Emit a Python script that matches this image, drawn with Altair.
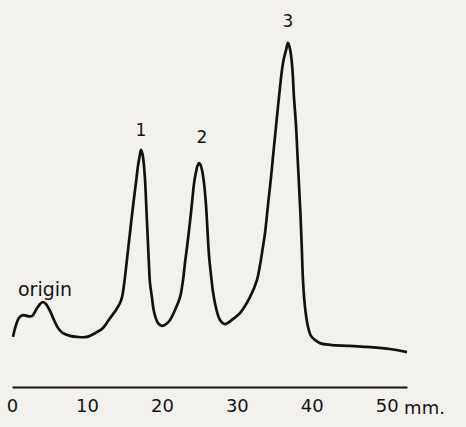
import altair as alt
import pandas as pd

# Densitometer trace: distance migrated (mm) vs. relative detector response
distance_mm = [
    # origin region
    0.13, 0.53, 0.93, 1.47, 2.13, 2.67, 3.20, 3.74, 4.14, 4.54, 5.07, 5.60,
    6.14, 6.80, 7.74, 8.67, 10.01, 11.34, 12.14, 12.81, 13.48, 13.88, 14.41,
    # peak 1
    14.68, 14.94, 15.21, 15.48, 15.74, 16.01, 16.28, 16.55, 16.81, 17.08,
    17.21, 17.41, 17.61, 17.75, 17.88, 18.01, 18.15, 18.28, 18.41, 18.68,
    18.95, 19.48, 20.01,
    # peak 2
    20.55, 21.08, 21.75, 22.42, 22.82, 23.08, 23.35, 23.62, 23.88, 24.08,
    24.28, 24.55, 24.75, 24.95, 25.15, 25.35, 25.62, 25.88, 26.08, 26.28,
    26.55, 26.82, 27.22, 27.75, 28.42, 29.49, 30.42,
    # peak 3
    31.75, 32.69, 33.09, 33.42, 33.76, 34.02, 34.22, 34.42, 34.74, 34.95,
    35.18, 35.62, 36.16, 36.56, 36.82, 37.09, 37.22, 37.42, 37.62, 37.89,
    38.09, 38.29, 38.49, 38.66, 38.82, 39.09, 39.49, 39.89,
    # tail
    40.43, 41.09, 42.43, 45.10, 47.37, 50.43, 52.70,
]
response = [
    15.5, 18.9, 21.0, 21.8, 21.5, 21.5, 23.3, 25.0, 25.6, 25.0, 23.0, 20.4,
    18.1, 16.6, 15.8, 15.5, 15.5, 16.9, 18.1, 20.1, 22.1, 23.3, 25.3,
    27.0, 30.5, 35.4, 40.7, 45.6, 50.8, 55.7, 60.3, 65.0, 68.4,
    69.6, 68.4, 65.0, 60.9, 55.1, 48.8, 42.1, 36.0, 31.1, 26.8,
    22.7, 19.5, 18.7,
    19.2, 20.4, 23.3, 27.0, 32.0, 36.9, 41.5, 46.4, 51.4, 55.7,
    59.8, 63.2, 65.0, 65.8, 65.3, 63.8, 60.0, 53.7, 46.4, 39.2,
    33.4, 28.5, 23.9, 20.4, 19.2, 20.7, 22.4,
    27.0, 32.0, 36.3, 40.7, 45.6, 50.8, 55.1, 58.9, 65.8, 70.5,
    75.4, 84.9, 94.8, 98.5, 100.6, 98.8, 97.1, 92.8, 84.9, 76.8,
    68.1, 59.5, 50.8, 41.5, 32.0, 24.2, 18.4, 15.8,
    14.6, 13.7, 13.2, 12.9, 12.6, 12.0, 11.1,
]

# Peak annotations (anchored at the peak they name)
label_text = ["origin", "1", "2", "3"]
label_mm = [4.14, 17.21, 24.95, 36.82]
label_resp = [25.6, 69.6, 65.8, 100.6]
label_size = [19, 17, 17, 17]
label_dx = [2, 0, 3, 0]
label_dy = [-6, -14, -20, -16]

tick_values = [0, 10, 20, 30, 40, 50]

trace = pd.DataFrame({"mm": distance_mm, "resp": response})
labels = pd.DataFrame({"t": label_text, "mm": label_mm, "resp": label_resp})

FONT = "DejaVu Sans"
INK = "#141414"

x_scale = alt.Scale(domain=[0, 52.7], nice=False, zero=False)
y_scale = alt.Scale(domain=[1, 113], nice=False, zero=False)

x_axis = alt.Axis(
    values=tick_values,
    grid=False,
    domainColor=INK,
    domainWidth=2,
    ticks=False,
    labelFont=FONT,
    labelFontSize=18,
    labelColor=INK,
    labelPadding=10,
    labelFlush=False,
    title="mm.",
    titleFont=FONT,
    titleFontSize=18,
    titleFontWeight="normal",
    titleColor=INK,
    titleX=412,
    titleY=21,
    titleAlign="center",
    titleBaseline="middle",
    titleAngle=0,
)

line = alt.Chart(trace).mark_line(
    color="#111111", strokeWidth=2.7, interpolate="catmull-rom"
).encode(
    x=alt.X("mm:Q", scale=x_scale, axis=x_axis),
    y=alt.Y("resp:Q", scale=y_scale, axis=None),
)

text_layers = []
for i, t in enumerate(label_text):
    text_layers.append(
        alt.Chart(labels.iloc[[i]]).mark_text(
            font=FONT,
            fontSize=label_size[i],
            color=INK,
            baseline="alphabetic",
            align="center",
            dx=label_dx[i],
            dy=label_dy[i],
        ).encode(
            x=alt.X("mm:Q", scale=x_scale),
            y=alt.Y("resp:Q", scale=y_scale),
            text="t:N",
        )
    )

chart = (
    alt.layer(line, *text_layers)
    .properties(
        width=395,
        height=387,
        padding={"left": 12, "right": 59, "top": 0, "bottom": 40},
        autosize=alt.AutoSizeParams(type="none"),
        background="#f3f1ee",
    )
    .configure_view(stroke=None)
)

chart.save("out.html", embed_options={"renderer": "svg", "actions": False})
